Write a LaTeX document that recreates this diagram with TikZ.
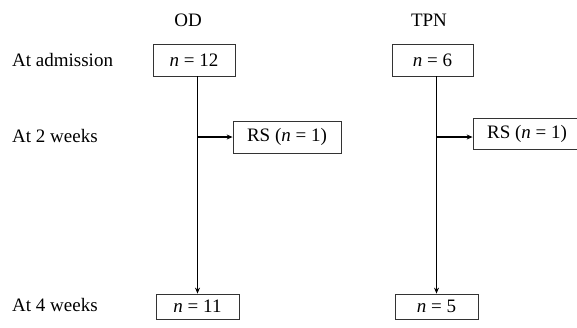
\documentclass[tikz,border=0pt]{standalone}
\usepackage{fontspec}
\setmainfont{Liberation Serif}
\usetikzlibrary{arrows.meta}
\begin{document}
\begin{tikzpicture}[x=1pt,y=-1pt,
  box/.style={draw=black!80,line width=0.8pt,inner sep=0pt,font=\fontsize{19}{22}\selectfont},
  lbl/.style={inner sep=0pt,font=\fontsize{19}{22}\selectfont},
  conn/.style={line width=1.5pt,-{Stealth[length=6pt,width=5pt]}}]
\useasboundingbox (0,0) rectangle (577,327);
\clip (0,0) rectangle (577,327);
\node[lbl] (od) at (188,20) {OD};
\node[lbl] (tpn) at (429,20) {TPN};
\node[lbl,anchor=west] (l1) at (12,60) {At admission};
\node[lbl,anchor=west] (l2) at (12,136) {At 2 weeks};
\node[lbl,anchor=west] (l3) at (12,305) {At 4 weeks};
\node[box,minimum width=82pt,minimum height=32pt] (a1) at (194,60) {\textit{n} = 12};
\node[box,minimum width=81pt,minimum height=32pt] (b1) at (432.5,60) {\textit{n} = 6};
\node[box,minimum width=108pt,minimum height=32pt] (rs1) at (287,137) {RS (\textit{n} = 1)};
\node[box,minimum width=108pt,minimum height=31pt] (rs2) at (527,133.5) {RS (\textit{n} = 1)};
\node[box,minimum width=83pt,minimum height=25pt] (a2) at (197.5,306.5) {\textit{n} = 11};
\node[box,minimum width=83pt,minimum height=25pt] (b2) at (436.5,306.5) {\textit{n} = 5};
\coordinate (c1) at (197.5,137);
\coordinate (c2) at (436.5,137);
\draw[conn] (a1.south -| a2.north) -- (a2.north);
\draw[conn] (b1.south -| b2.north) -- (b2.north);
\draw[conn] (c1) -- (rs1.west);
\draw[conn] (c2) -- (c2 -| rs2.west);
\end{tikzpicture}
\end{document}
